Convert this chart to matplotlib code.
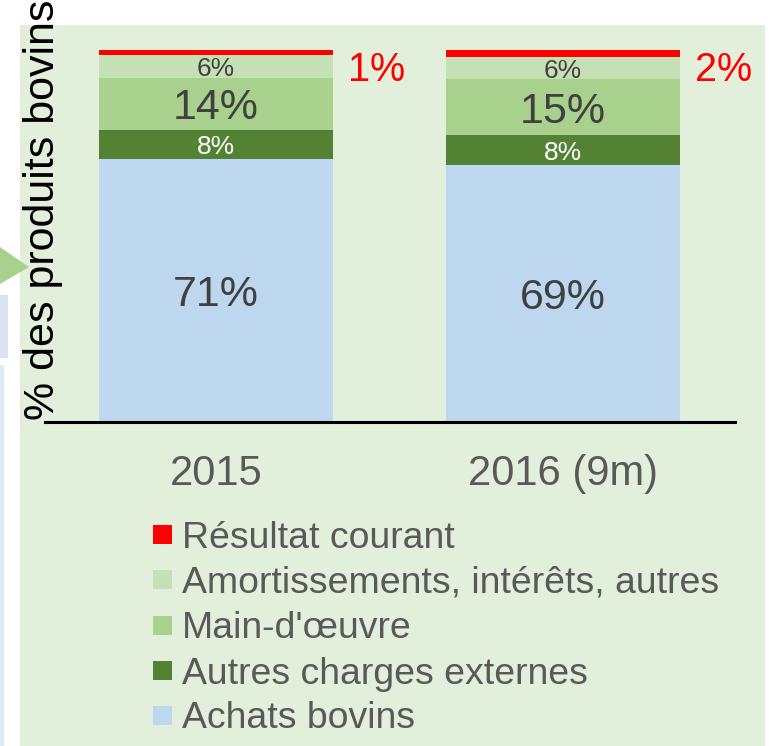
import matplotlib
matplotlib.use("Agg")
import matplotlib.pyplot as plt
from matplotlib.patches import Rectangle, Polygon

plt.rcParams['font.family'] = ['Liberation Sans', 'DejaVu Sans']

# ---------------- data ----------------
categories = ["2015", "2016 (9m)"]
series_names = ["Achats bovins", "Autres charges externes", "Main-d'œuvre",
                "Amortissements, intérêts, autres", "Résultat courant"]
achats = [70.8, 69.0]
autres_charges = [7.6, 8.1]
main_oeuvre = [14.2, 15.1]
amortissements = [6.0, 5.9]
resultat = [1.4, 1.9]
colors = ["#BDD7EE", "#548235", "#A9D18E", "#C5E0B4", "#FF0000"]
ylabel = "% des produits bovins"

W, H = 779, 746
fig = plt.figure(figsize=(W / 100, H / 100), dpi=100)
fig.patch.set_facecolor("white")

def fx(px):
    return px / W

def fy(py):
    return 1 - py / H

# slide background panel and clipped slide decorations
bg = [
    Rectangle((fx(20), fy(746)), fx(765) - fx(20), fy(25) - fy(746), facecolor="#E2EFDA"),
    Polygon([(fx(0), fy(247)), (fx(29), fy(267)), (fx(0), fy(284))], closed=True, facecolor="#A9D18E"),
    Rectangle((fx(0), fy(358)), fx(8), fy(295) - fy(358), facecolor="#DAE3F3"),
    Rectangle((fx(0), fy(746)), fx(4), fy(365) - fy(746), facecolor="#DEEBF7"),
]
for p in bg:
    p.set_transform(fig.transFigure)
    p.set_edgecolor("none")
    p.set_zorder(-5)
    fig.patches.append(p)

ax_l, ax_r, ax_t, ax_b = 45, 735, 50, 422
ax = fig.add_axes([fx(ax_l), fy(ax_b), fx(ax_r) - fx(ax_l), fy(ax_t) - fy(ax_b)])
ax.set_facecolor("none")
ax.set_zorder(1)

x = [0, 1]
unit = 347.0
ax.set_xlim(-(216 - ax_l) / unit, (ax_r - 216) / unit)
ax.set_ylim(0, 100)
bw = 234 / unit

stack = [achats, autres_charges, main_oeuvre, amortissements, resultat]
bottoms = [0.0, 0.0]
for vals, col in zip(stack, colors):
    ax.bar(x, vals, bottom=bottoms, width=bw, color=col, edgecolor="none", zorder=2)
    bottoms = [b + v for b, v in zip(bottoms, vals)]

# data labels
lab_style = [
    dict(size=31, color="#404040"),
    dict(size=19, color="white"),
    dict(size=31, color="#404040"),
    dict(size=19, color="#404040"),
]
for i in range(2):
    b = 0.0
    for k, vals in enumerate(stack[:4]):
        v = vals[i]
        ax.text(x[i], b + v / 2, f"{v:.0f}%", ha="center", va="center_baseline", zorder=3,
                **lab_style[k])
        b += v
    total = b + resultat[i]
    ax.text(x[i] + bw / 2 + 0.043, total - 4.4,
            f"{resultat[i]:.0f}%", ha="left", va="center_baseline",
            size=28.5, color="#FF0000", zorder=3)

for s in ["top", "right", "left"]:
    ax.spines[s].set_visible(False)
ax.spines["bottom"].set_linewidth(2.2)
ax.spines["bottom"].set_color("black")
ax.set_yticks([])
ax.set_xticks(x)
ax.set_xticklabels(categories, size=30, color="#595959")
ax.tick_params(axis="x", length=0, pad=23)

fig.text(fx(43), fy(210), ylabel, rotation=90, ha="center", va="center",
         size=31, color="black")

# legend (manual, top to bottom)
rows_y = [535, 580, 626, 671, 716]
for name, col, ry in zip(series_names[::-1], colors[::-1], rows_y):
    sq = Rectangle((fx(153), fy(ry + 9)), fx(19), fy(ry - 10) - fy(ry + 9),
                   transform=fig.transFigure, facecolor=col, edgecolor="none", zorder=3)
    fig.patches.append(sq)
    fig.text(fx(182), fy(ry - 1), name, ha="left", va="center_baseline", size=26.9, color="#595959")

fig.savefig("out.png", dpi=100)
